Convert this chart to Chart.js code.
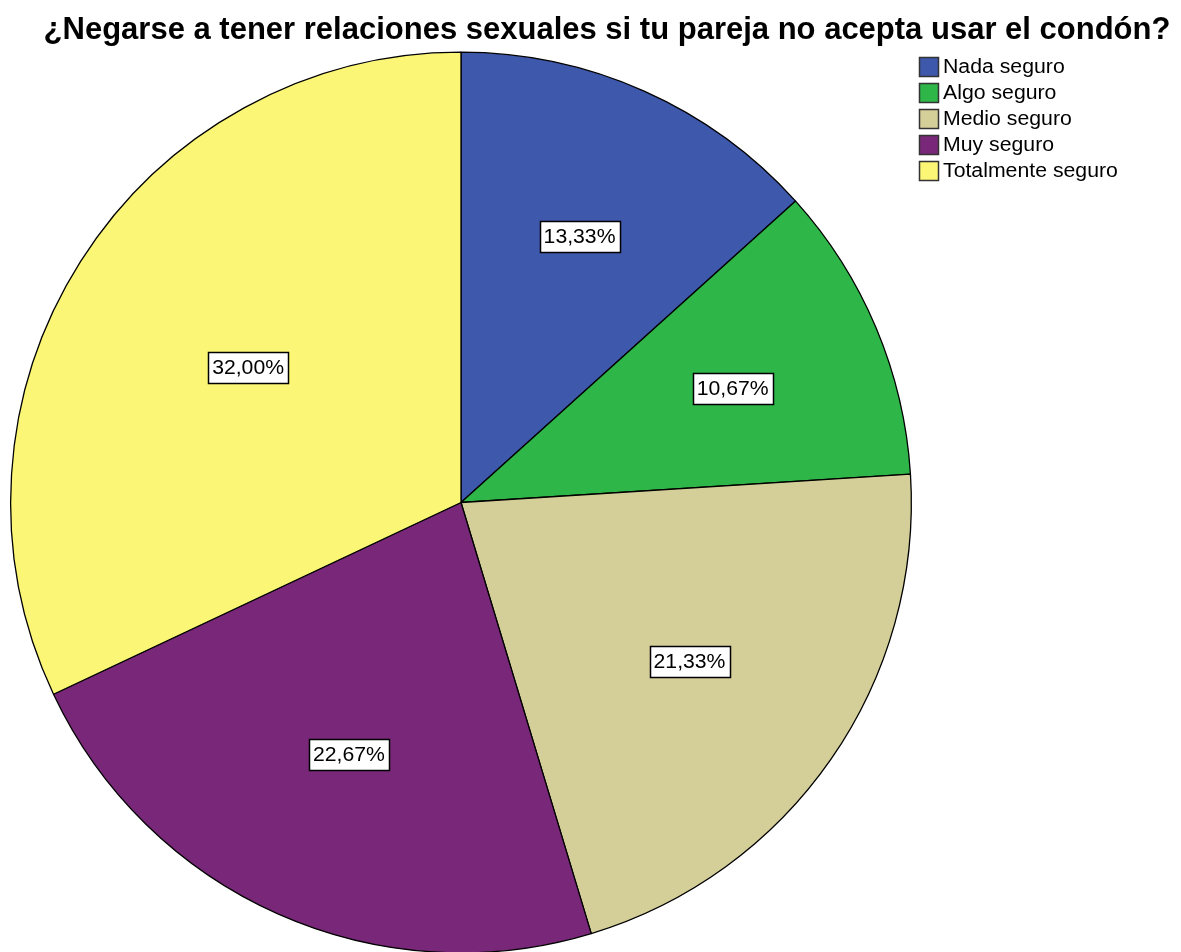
<!DOCTYPE html>
<html lang="es">
  <head>
    <meta charset="utf-8">
    <title>Negarse a tener relaciones</title>
    <style>
      html, body { margin: 0; padding: 0; overflow: hidden; background: #fff; }
      #wrap { width: 1181px; height: 960px; position: relative; }
    </style>
  </head>
  <body>
    <div id="wrap"><canvas id="pie"></canvas></div>
    <script src="https://cdn.jsdelivr.net/npm/chart.js@4.4.1/dist/chart.umd.min.js"></script>
    <script>
      const title = "¿Negarse a tener relaciones sexuales si tu pareja no acepta usar el condón?";
      const categories = ["Nada seguro", "Algo seguro", "Medio seguro", "Muy seguro", "Totalmente seguro"];
      const percents = [13.33, 10.67, 21.33, 22.67, 32.00];
      const colors = ['rgb(62, 88, 172)', 'rgb(47, 182, 72)', 'rgb(212, 206, 152)', 'rgb(121, 40, 121)', 'rgb(251, 246, 117)'];
      const font = '"Liberation Sans", Arial, sans-serif';

      // small text in the SPSS picture is a bit wider than Arial, so stretch it sideways
      function wideText(ctx, txt, x, y, sx, align) {
        const w = ctx.measureText(txt).width * sx;
        let left = x;
        if (align === 'center') left = x - w / 2;
        ctx.save();
        ctx.textAlign = 'left';
        ctx.translate(left, y);
        ctx.scale(sx, 1);
        ctx.fillText(txt, 0, 0);
        ctx.restore();
        return w;
      }

      const spssLook = {
        id: 'spssLook',
        afterDatasetsDraw(chart) {
          const ctx = chart.ctx;
          ctx.save();
          // slice labels at the sector centroid
          const arcs = chart.getDatasetMeta(0).data;
          ctx.font = '20px ' + font;
          ctx.textBaseline = 'middle';
          arcs.forEach((arc, i) => {
            const half = (arc.endAngle - arc.startAngle) / 2;
            const mid = arc.startAngle + half;
            const d = (2 / 3) * arc.outerRadius * Math.sin(half) / half;
            const x = arc.x + Math.cos(mid) * d;
            const y = arc.y + Math.sin(mid) * d;
            const txt = percents[i].toFixed(2).replace('.', ',') + '%';
            const w = Math.round(ctx.measureText(txt).width * 1.06 + 8);
            const h = 31;
            const bx = Math.round(x - w / 2) + 0.5, by = Math.round(y - h / 2) + 0.5;
            ctx.fillStyle = '#fff';
            ctx.fillRect(bx, by, w, h);
            ctx.strokeStyle = '#000';
            ctx.lineWidth = 1.5;
            ctx.strokeRect(bx, by, w, h);
            ctx.fillStyle = '#000';
            wideText(ctx, txt, x, y + 1, 1.06, 'center');
          });
          // title
          ctx.font = 'bold 31px ' + font;
          ctx.textAlign = 'center';
          ctx.textBaseline = 'alphabetic';
          ctx.fillStyle = '#000';
          ctx.fillText(title, 607, 39);
          // legend
          ctx.font = '19.5px ' + font;
          ctx.textBaseline = 'middle';
          ctx.lineWidth = 1.5;
          categories.forEach((c, i) => {
            const y = 66.5 + i * 26;
            ctx.fillStyle = colors[i];
            ctx.fillRect(919.5, Math.round(y - 9.5) + 0.5, 19, 19);
            ctx.strokeStyle = '#333';
            ctx.strokeRect(919.5, Math.round(y - 9.5) + 0.5, 19, 19);
            ctx.fillStyle = '#000';
            wideText(ctx, c, 943, y + 1, 1.09, 'left');
          });
          ctx.restore();
        }
      };

      new Chart(document.getElementById('pie'), {
        type: 'pie',
        data: {
          labels: categories,
          datasets: [{
            data: percents,
            backgroundColor: colors,
            borderColor: '#000',
            borderWidth: 1.3
          }]
        },
        options: {
          responsive: true,
          maintainAspectRatio: false,
          animation: false,
          layout: { padding: { left: 10, right: 269, top: 51, bottom: 6 } },
          plugins: {
            legend: { display: false },
            title: { display: false },
            tooltip: { enabled: false }
          }
        },
        plugins: [spssLook]
      });
    </script>
  </body>
</html>
